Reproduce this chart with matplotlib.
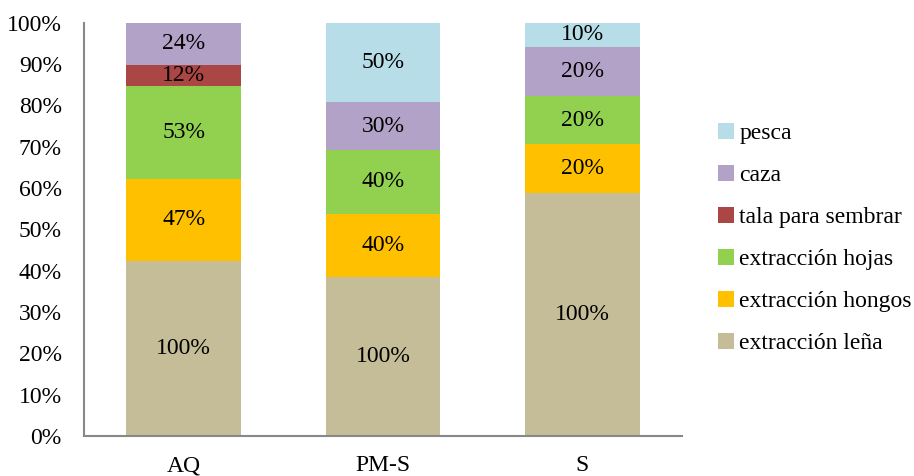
import matplotlib
matplotlib.use("Agg")
import matplotlib.pyplot as plt
from matplotlib.patches import Patch
import numpy as np

plt.rcParams['font.family'] = ['Liberation Serif', 'DejaVu Serif']

sites = ["AQ", "PM-S", "S"]
activities = ["extracción leña", "extracción hongos", "extracción hojas",
              "tala para sembrar", "caza", "pesca"]
# percentage of respondents mentioning each activity, per site
lena = [100, 100, 100]
hongos = [47, 40, 20]
hojas = [53, 40, 20]
tala = [12, 0, 0]
caza = [24, 30, 20]
pesca = [0, 50, 10]
series = [lena, hongos, hojas, tala, caza, pesca]
colors = ["#C4BD97", "#FFC000", "#92D050", "#AA4643", "#B3A2C7", "#B7DEE8"]

fig = plt.figure(figsize=(9.14, 4.76), dpi=100)
ax = fig.add_axes([0.092, 0.084, 0.654, 0.868])

data = np.array(series, dtype=float)
totals = data.sum(axis=0)
shares = data / totals * 100
x = np.arange(len(sites))
bottom = np.zeros(len(sites))
for vals, raw, col in zip(shares, data, colors):
    ax.bar(x, vals, bottom=bottom, width=0.575, color=col, edgecolor='none')
    for xi, v, b, r in zip(x, vals, bottom, raw):
        if r > 0:
            ax.text(xi, b + v / 2, f"{int(r)}%", ha='center', va='center',
                    fontsize=17, color='black')
    bottom += vals

ax.set_xlim(-0.5, 2.5)
ax.set_ylim(0, 100)
ax.set_yticks(np.arange(0, 101, 10))
ax.set_yticklabels([f"{v}%" for v in range(0, 101, 10)], fontsize=17)
ax.set_xticks(x)
ax.set_xticklabels(sites, fontsize=17)
ax.tick_params(axis='y', length=0, pad=16)
ax.tick_params(axis='x', length=0, pad=14)
for s in ['top', 'right']:
    ax.spines[s].set_visible(False)
for s in ['left', 'bottom']:
    ax.spines[s].set_color('#888888')
    ax.spines[s].set_linewidth(1.5)

handles = [Patch(facecolor=c, edgecolor='none', label=a)
           for a, c in zip(activities, colors)][::-1]
fig.legend(handles=handles, loc='center left', bbox_to_anchor=(0.786, 0.499),
           frameon=False, fontsize=17, handlelength=0.68, handleheight=0.68,
           handletextpad=0.2, labelspacing=0.87, borderpad=0, borderaxespad=0)

fig.savefig("out.png", dpi=100)
